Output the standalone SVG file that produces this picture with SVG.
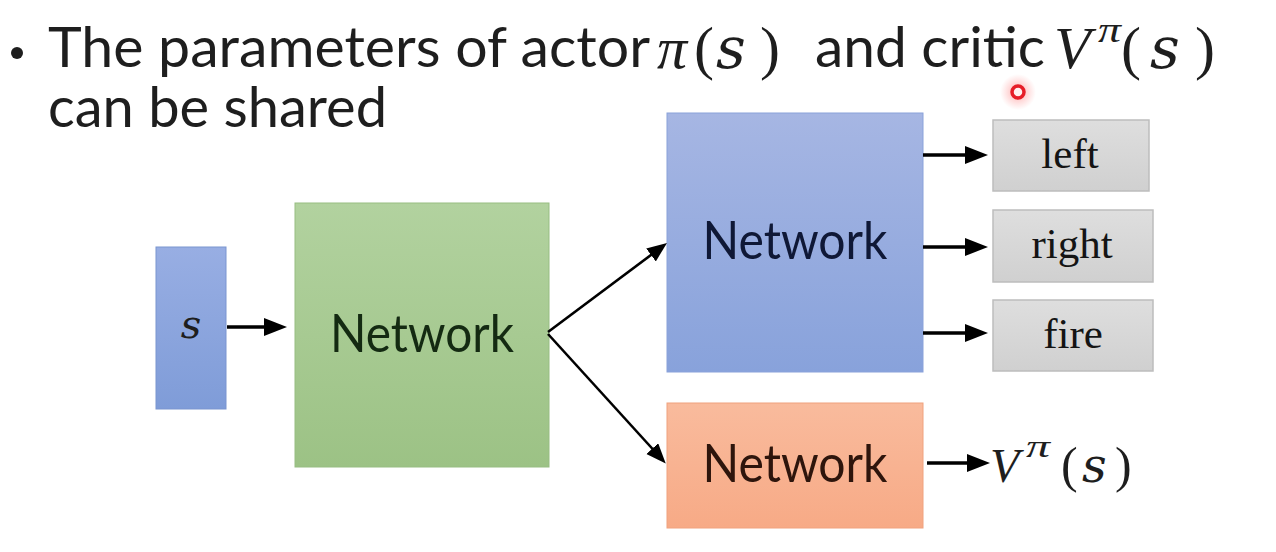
<svg xmlns="http://www.w3.org/2000/svg" width="1276" height="552" viewBox="0 0 1276 552">
  <defs>
    <linearGradient id="gBlue" x1="0" y1="0" x2="0" y2="1">
      <stop offset="0" stop-color="#a6b6e3"/>
      <stop offset="1" stop-color="#88a2db"/>
    </linearGradient>
    <linearGradient id="gS" x1="0" y1="0" x2="0" y2="1">
      <stop offset="0" stop-color="#98aee3"/>
      <stop offset="1" stop-color="#7f9cd8"/>
    </linearGradient>
    <linearGradient id="gGreen" x1="0" y1="0" x2="0" y2="1">
      <stop offset="0" stop-color="#b2d29f"/>
      <stop offset="1" stop-color="#9cc285"/>
    </linearGradient>
    <linearGradient id="gOrange" x1="0" y1="0" x2="0" y2="1">
      <stop offset="0" stop-color="#f9bb9d"/>
      <stop offset="1" stop-color="#f7aa86"/>
    </linearGradient>
    <linearGradient id="gGray" x1="0" y1="0" x2="0" y2="1">
      <stop offset="0" stop-color="#dedede"/>
      <stop offset="1" stop-color="#d0d0d0"/>
    </linearGradient>
    <radialGradient id="glow">
      <stop offset="0" stop-color="#ff6060" stop-opacity="0.55"/>
      <stop offset="1" stop-color="#ff8080" stop-opacity="0"/>
    </radialGradient>
    <marker id="ah" markerUnits="userSpaceOnUse" markerWidth="24" markerHeight="20" refX="12" refY="9" orient="auto">
      <path d="M0,0 L23,9 L0,18 z" fill="#000"/>
    </marker>
    <marker id="ahs" markerUnits="userSpaceOnUse" markerWidth="22" markerHeight="18" refX="10" refY="8" orient="auto">
      <path d="M0,0 L20,8 L0,16 z" fill="#000"/>
    </marker>
  </defs>
  <style>
    .title { font-family: Lato, "Open Sans", sans-serif; font-size: 57px; fill: #1e1e1e; }
    .math { font-family: "Liberation Serif", "DejaVu Serif", serif; fill: #1e1e1e; }
    .ms { font-family: "DejaVu Serif", "Liberation Serif", serif; font-style: italic; fill: #1e1e1e; }
    .it { font-style: italic; }
    .net { font-family: Lato, "Open Sans", sans-serif; font-size: 52px; text-anchor: middle; }
    .act { font-family: "Liberation Serif", serif; font-size: 43px; fill: #141414; text-anchor: middle; }
    .thick { stroke: #000; stroke-width: 3.5; fill: none; marker-end: url(#ah); }
    .thin { stroke: #000; stroke-width: 2.6; fill: none; marker-end: url(#ahs); }
    .gray { fill: url(#gGray); stroke: #bdbdbd; stroke-width: 1.5; }
  </style>
  <rect width="1276" height="552" fill="#ffffff"/>

  <g id="title">
    <circle cx="17" cy="53" r="6" fill="#1e1e1e"/>
    <text class="title" x="48" y="67" textLength="602" lengthAdjust="spacingAndGlyphs">The parameters of actor</text>
    <text class="math it" x="657" y="68" font-size="60">π</text>
    <text class="math" x="694" y="68" font-size="60">(</text>
    <text class="ms" x="716" y="68" font-size="58">s</text>
    <text class="math" x="760" y="68" font-size="60">)</text>
    <text class="title" x="815" y="67" textLength="230" lengthAdjust="spacingAndGlyphs">and critic</text>
    <text class="math it" x="1054" y="68" font-size="60">V</text>
    <text class="math it" x="1098" y="42" font-size="36" textLength="23" lengthAdjust="spacingAndGlyphs">π</text>
    <text class="math" x="1121" y="68" font-size="60">(</text>
    <text class="ms" x="1150" y="68" font-size="58">s</text>
    <text class="math" x="1195" y="68" font-size="60">)</text>
    <text class="title" x="48" y="127" textLength="339" lengthAdjust="spacingAndGlyphs">can be shared</text>
  </g>

  <g id="pointer">
    <circle cx="1018" cy="92" r="18" fill="url(#glow)"/>
    <circle cx="1018" cy="92" r="6" fill="#fff0f0" stroke="#e61e28" stroke-width="3.5"/>
  </g>

  <g id="node-s">
    <rect x="156" y="247" width="70" height="162" fill="url(#gS)" stroke="#7a95d0" stroke-width="1"/>
    <text class="ms" x="191" y="338" font-size="40" fill="#1a2650" text-anchor="middle">s</text>
  </g>

  <g id="node-shared">
    <rect x="295" y="203" width="254" height="264" fill="url(#gGreen)" stroke="#97bd82" stroke-width="1"/>
    <text class="net" x="422" y="352" fill="#142a12" textLength="184" lengthAdjust="spacingAndGlyphs">Network</text>
  </g>

  <g id="node-actor">
    <rect x="667" y="113" width="256" height="259" fill="url(#gBlue)" stroke="#8aa2da" stroke-width="1"/>
    <text class="net" x="795" y="259" fill="#0f1836" textLength="185" lengthAdjust="spacingAndGlyphs">Network</text>
  </g>

  <g id="node-critic">
    <rect x="667" y="403" width="256" height="125" fill="url(#gOrange)" stroke="#f0a27e" stroke-width="1"/>
    <text class="net" x="795" y="482" fill="#2e150c" textLength="185" lengthAdjust="spacingAndGlyphs">Network</text>
  </g>

  <g id="node-left">
    <rect class="gray" x="993" y="120" width="156" height="71"/>
    <text class="act" x="1070" y="168">left</text>
  </g>
  <g id="node-right">
    <rect class="gray" x="993" y="210" width="160" height="72"/>
    <text class="act" x="1072" y="258">right</text>
  </g>
  <g id="node-fire">
    <rect class="gray" x="993" y="300" width="160" height="71"/>
    <text class="act" x="1073" y="348">fire</text>
  </g>

  <g id="node-value">
    <text class="math it" x="990" y="482" font-size="48">V</text>
    <text class="math it" x="1026" y="457" font-size="32" textLength="24" lengthAdjust="spacingAndGlyphs">π</text>
    <text class="math" x="1061" y="482" font-size="50">(</text>
    <text class="ms" x="1082" y="482" font-size="48">s</text>
    <text class="math" x="1115" y="482" font-size="50">)</text>
  </g>

  <g id="connectors">
    <line class="thick" x1="227" y1="327" x2="276" y2="327"/>
    <line class="thin" x1="548" y1="332" x2="659" y2="249"/>
    <line class="thin" x1="548" y1="334" x2="659" y2="456"/>
    <line class="thick" x1="923" y1="155" x2="977" y2="155"/>
    <line class="thick" x1="923" y1="247" x2="977" y2="247"/>
    <line class="thick" x1="923" y1="333" x2="977" y2="333"/>
    <line class="thick" x1="927" y1="463" x2="979" y2="463"/>
  </g>
</svg>
